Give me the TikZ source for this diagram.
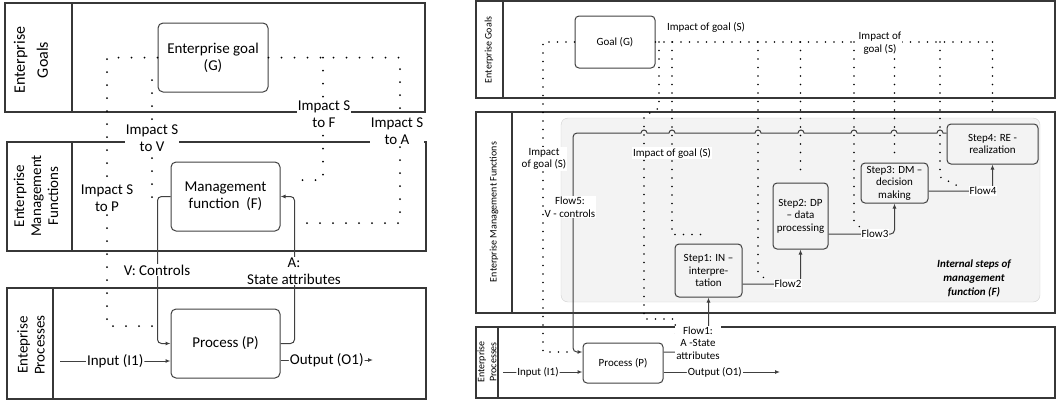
\documentclass[tikz,border=0pt]{standalone}
\usepackage{fontspec}
\setmainfont{Carlito}
\usetikzlibrary{arrows.meta}

\begin{document}
\begin{tikzpicture}[x=1pt, y=-1pt, font=\fontsize{15}{17}\selectfont]
  % Kolory
  \definecolor{lineDark}{RGB}{55,55,55}
  \definecolor{boxLine}{RGB}{64,64,64}
  \definecolor{fillGray}{RGB}{243,243,243}
  \definecolor{edgeGray}{RGB}{208,208,208}

  % Style
  \tikzset{
    sekcja/.style={draw=lineDark, line width=1.3pt},
    blok/.style={draw=boxLine, line width=1pt, rounded corners=5pt, align=center, inner sep=0pt},
    opis/.style={fill=white, inner sep=1pt, align=center},
    wplyw/.style={draw=black, line width=2pt, line cap=round, dash pattern=on 0pt off 13pt},
    wplywR/.style={wplyw, line width=1.7pt, dash pattern=on 0pt off 8.5pt},
    przeplyw/.style={draw=boxLine, line width=1pt, rounded corners=4pt, -{Latex[length=5pt, width=4pt]}},
    prawy/.style={font=\fontsize{11}{12.5}\selectfont},
  }

  \useasboundingbox (0,0) rectangle (1058,400);

  % ---------------- Lewy diagram ----------------
  % Sekcje
  \draw[sekcja] (5,3) rectangle (425,112) (72,3) -- (72,112);
  \draw[sekcja] (7,142) rectangle (426,251) (72,142) -- (72,251);
  \draw[sekcja] (7,288) rectangle (426,399) (53,288) -- (53,399);

  \node[rotate=90, align=center, font=\fontsize{16}{18}\selectfont] (lGoals) at (31,60) {Enterprise\\[5pt]Goals};
  \node[rotate=90, align=center] (lFun) at (36,196) {Enterprise\\Management\\Functions};
  \node[rotate=90, align=center] (lProc) at (31,345) {Enteprise\\Processes};

  % Bloki
  \node[blok, minimum width=110, minimum height=69] (goalL) at (213,57.5) {Enterprise goal\\(G)};
  \node[blok, minimum width=109, minimum height=69] (funcL) at (225.5,196.5) {Management\\function~ (F)};
  \node[blok, minimum width=109, minimum height=69] (procL) at (225.5,343.5) {Process (P)};

  % Wplyw celu
  \coordinate (kP) at (165,326);
  \coordinate (sV1) at (152,80);
  \coordinate (sV2) at (152,198);
  \coordinate (kA) at (298,223);
  \coordinate (sF1) at (323,57.5);
  \coordinate (kF) at (290,180);
  \draw[wplyw] (goalL.west) -| (107,326) -- (kP);
  \draw[wplyw] (sV1) -- (sV2);
  \draw[wplyw] (goalL.east) -| (400,223) -- (kA);
  \draw[wplyw] (sF1) |- (kF);

  % Przeplywy
  \coordinate (inL) at (60,361);
  \coordinate (outL) at (373,360);
  \draw[przeplyw] (funcL.west) -- ++(-13,0) |- (procL.west);
  \draw[przeplyw] (procL.east) -- ++(14,0) |- (funcL.east);
  \draw[przeplyw] (inL) -- (procL.west |- inL) node[opis, midway] (lIn) {Input (I1)};
  \draw[przeplyw] (procL.east |- outL) -- (outL) node[opis, midway] (lOut) {Output (O1)};

  % Etykiety
  \node[opis] (lSP) at (107,198) {Impact S\\to P};
  \node[opis] (lSV) at (152,138) {Impact S\\to V};
  \node[opis] (lSF) at (324,114) {Impact S\\to F};
  \node[opis] (lSA) at (397,131) {Impact S\\to A};
  \node[opis] (lV) at (157,270) {V: Controls};
  \node[opis] (lA) at (294,271) {A:\\State attributes};

  % ---------------- Prawy diagram ----------------
  \begin{scope}[prawy]
  % Sekcje
  \draw[sekcja] (476,1) rectangle (1055,98) (503,1) -- (503,98);
  \draw[sekcja] (476,112) rectangle (1055,313) (512,112) -- (512,313);
  \draw[sekcja] (476,327) rectangle (1055,398) (498,327) -- (498,398);

  \node[rotate=90, font=\fontsize{10}{12}\selectfont] (rGoals) at (489,50) {Enterprise Goals};
  \node[rotate=90, font=\fontsize{10}{12}\selectfont] (rFun) at (494,212) {Enterprise Management Functions};
  \node[rotate=90, align=center, font=\fontsize{10}{12}\selectfont] (rProc) at (487,362) {Enterprise\\Processes};

  \fill[fillGray, draw=edgeGray, rounded corners=7pt] (561,118) rectangle (1040,302);

  % Bloki
  \node[blok, rounded corners=4pt, minimum width=80, minimum height=52] (goalR) at (615,42) {Goal (G)};
  \node[blok, rounded corners=4pt, minimum width=80, minimum height=40] (procR) at (623,363) {Process (P)};
  \node[blok, rounded corners=4pt, minimum width=67, minimum height=53] (step1) at (708.5,270.5) {Step1: IN --\\interpre-\\tation};
  \node[blok, rounded corners=4pt, minimum width=55, minimum height=66] (step2) at (800.5,216) {Step2: DP\\-- data\\processing};
  \node[blok, rounded corners=4pt, minimum width=67, minimum height=40] (step3) at (894.5,183) {Step3: DM --\\decision\\making};
  \node[blok, rounded corners=4pt, minimum width=91, minimum height=40] (step4) at (992.5,144) {Step4: RE -\\realization};

  % Wplyw celu
  \coordinate (gora) at (992,42);
  \coordinate (kPR) at (574,352);
  \coordinate (kF1) at (676,339);
  \coordinate (kF2) at (768,281);
  \coordinate (kF3) at (862,229);
  \coordinate (kF4) at (962,188);
  \draw[wplywR] (goalR.east) -- (gora);
  \draw[wplywR] (goalR.west) -| (543,352) -- (kPR);
  \draw[wplywR] (659,42) -- (659,108) -- (644,116) -- (644,319) -- (675,319) -- (kF1);
  \draw[wplywR] (672,42) |- ([yshift=9pt]step1.north);
  \draw[wplywR] (758,42) -- (758,273) -- (kF2);
  \draw[wplywR] (854,42) -- (854,222) -- (kF3);
  \draw[wplywR] (940,42) -- (940,177) -- (kF4);
  \foreach \s in {step2,step3,step4}
    \draw[wplywR] (\s.north |- gora) -- ([yshift=6pt]\s.north);

  % Przeplywy
  \coordinate (inR) at (503,372);
  \coordinate (outR) at (780,372);
  \draw[przeplyw] (procR.15) -| (step1.south);
  \draw[przeplyw] (step1.east |- 0,284) -| (step2.south);
  \draw[przeplyw] (step2.east |- 0,234) -| (step3.south);
  \draw[przeplyw] (step3.east |- 0,191) -| (step4.south);
  \draw[przeplyw] (inR) -- (procR.west |- inR) node[opis, pos=0.44] (lInR) {Input (I1)};
  \draw[przeplyw] (procR.east |- outR) -- (outR) node[opis, pos=0.44] (lOutR) {Output (O1)};

  % Sprzezenie zwrotne z mostkami
  \def\mostki{940,894,854,801,758,672,644}
  \xdef\sciezka{(step4.west |- 0,133)}
  \foreach \bx in \mostki {
    \xdef\sciezka{\sciezka -- (\bx+3,133) arc[start angle=0, end angle=-180, radius=3]}
  }
  \draw[przeplyw, sharp corners] \sciezka [rounded corners=4pt] -- (573,133) -- (573,352) -- (procR.west |- 0,352);

  % Etykiety
  \node (lImp1) at (706,27) {Impact of goal (S)};
  \node[opis] (lImp2) at (880,43) {Impact of\\goal (S)};
  \node[opis] (lImp3) at (544,159) {Impact\\of goal (S)};
  \node[opis] (lImp4) at (672,153) {Impact of goal (S)};
  \node[opis] (lF5) at (570,207) {Flow5:\\V - controls};
  \node[opis] (lF1) at (698,343) {Flow1:\\A -State\\attributes};
  \node[opis] (lF2) at (788,284) {Flow2};
  \node[opis] (lF3) at (875,234) {Flow3};
  \node[opis] (lF4) at (983,191) {Flow4};
  \node[align=center, font=\fontsize{11}{14}\selectfont\bfseries\itshape] (lInt) at (974,278) {Internal steps of\\management\\function (F)};
  \end{scope}
\end{tikzpicture}
\end{document}
